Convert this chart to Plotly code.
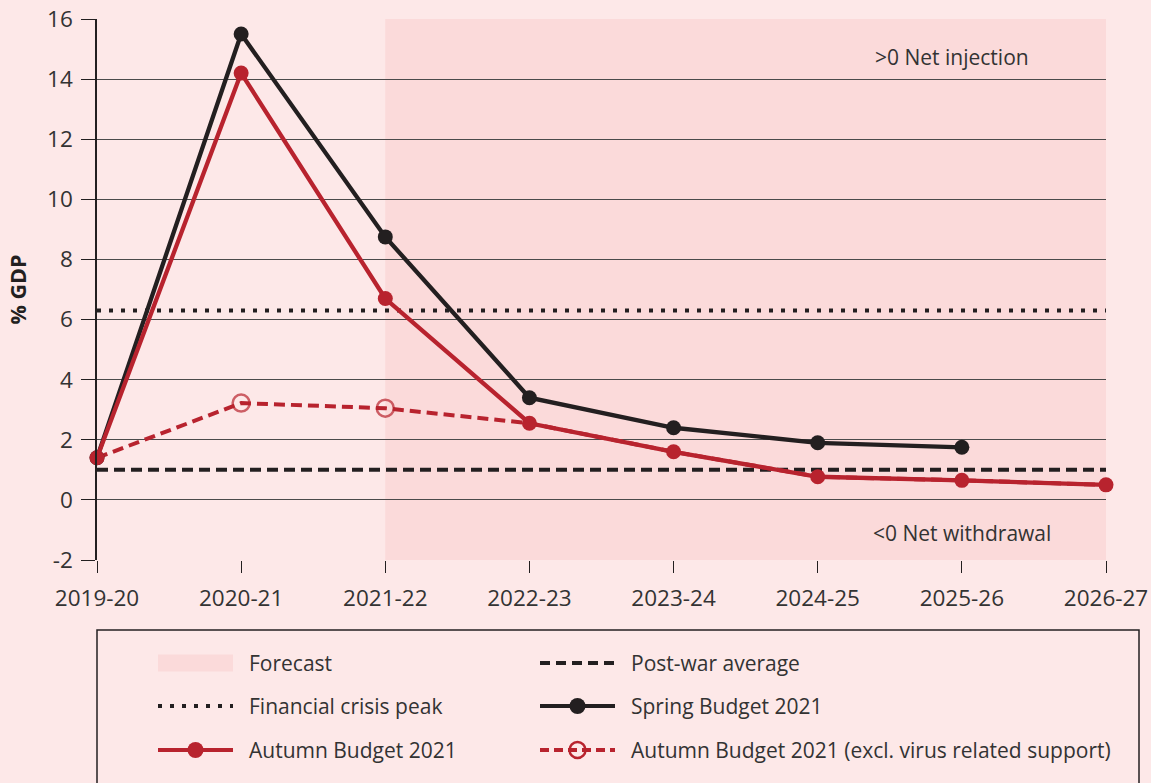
import plotly.graph_objects as go

# Fiscal stance, % of GDP
years = ["2019-20", "2020-21", "2021-22", "2022-23", "2023-24", "2024-25", "2025-26", "2026-27"]
spring_budget = [1.4, 15.5, 8.75, 3.4, 2.4, 1.9, 1.75, None]
autumn_budget = [1.4, 14.2, 6.7, 2.55, 1.6, 0.77, 0.65, 0.5]
autumn_excl_virus = [1.4, 3.22, 3.05, 2.55, 1.6, 0.77, 0.65, 0.5]
financial_crisis_peak = 6.3
post_war_average = 1.0
forecast_start = "2021-22"
y_ticks = [-2, 0, 2, 4, 6, 8, 10, 12, 14, 16]

BG = "#fde8e8"
FORECAST = "#fbdada"
RED = "#b8232e"
BLACK = "#231f20"
TXT = "#333333"
FONT = "Open Sans"

xs = list(range(len(years)))
x_end = xs[-1]
fc = years.index(forecast_start)

fig = go.Figure()

# reference levels
fig.add_trace(go.Scatter(x=[xs[0], x_end], y=[financial_crisis_peak] * 2, mode="lines",
                         line=dict(color=BLACK, width=4, dash="4px,8px"), hoverinfo="skip"))
fig.add_trace(go.Scatter(x=[xs[0], x_end], y=[post_war_average] * 2, mode="lines",
                         line=dict(color=BLACK, width=4, dash="11px,6px"), hoverinfo="skip"))

# excl. virus support: open markers only where it departs from the main line
excl_sizes = [17 if a != b else 0 for a, b in zip(autumn_excl_virus, autumn_budget)]
fig.add_trace(go.Scatter(x=xs, y=autumn_excl_virus, mode="lines+markers",
                         line=dict(color=RED, width=4, dash="11px,6px"),
                         marker=dict(symbol="circle-open", size=excl_sizes, color=RED,
                                     line=dict(width=2.5, color=RED)),
                         cliponaxis=False))
fig.add_trace(go.Scatter(x=xs, y=spring_budget, mode="lines+markers",
                         line=dict(color=BLACK, width=4.3),
                         marker=dict(size=15, color=BLACK), cliponaxis=False))
fig.add_trace(go.Scatter(x=xs, y=autumn_budget, mode="lines+markers",
                         line=dict(color=RED, width=4.3),
                         marker=dict(size=15, color=RED), cliponaxis=False))

# forecast shading
fig.add_shape(type="rect", xref="x", yref="paper", x0=fc, x1=x_end, y0=0, y1=1,
              fillcolor=FORECAST, line_width=0, layer="below")

fig.add_annotation(x=5.93, y=14.75, text="&gt;0 Net injection", showarrow=False,
                   font=dict(family=FONT, size=21, color=TXT))
fig.add_annotation(x=6.0, y=-1.1, text="&lt;0 Net withdrawal", showarrow=False,
                   font=dict(family=FONT, size=21, color=TXT))

# ---- custom legend (paper coords: x 0..1 = 97..1106 px, y 0..1 = 560..19 px)
def px_x(p):
    return (p - 97) / 1009


def px_y(p):
    return (560 - p) / 541


fig.add_shape(type="rect", xref="paper", yref="paper",
              x0=px_x(97), x1=px_x(1139), y0=px_y(630), y1=px_y(830),
              line=dict(color=BLACK, width=1.5), fillcolor="rgba(0,0,0,0)")

rows = [663, 706, 750]
cols = [(158, 233, 247), (540, 615, 629)]
items = [
    ("Forecast", "swatch", None, None),
    ("Post-war average", "line", BLACK, "10px,6px"),
    ("Financial crisis peak", "line", BLACK, "4px,8px"),
    ("Spring Budget 2021", "dot", BLACK, "solid"),
    ("Autumn Budget 2021", "dot", RED, "solid"),
    ("Autumn Budget 2021 (excl. virus related support)", "open", RED, "9px,5px"),
]
for i, (label, kind, color, dash) in enumerate(items):
    yy = rows[i // 2]
    x0, x1, xt = cols[i % 2]
    if kind == "swatch":
        fig.add_shape(type="rect", xref="paper", yref="paper",
                      x0=px_x(x0), x1=px_x(x1), y0=px_y(yy + 8.5), y1=px_y(yy - 8.5),
                      fillcolor=FORECAST, line_width=0)
    else:
        fig.add_shape(type="line", xref="paper", yref="paper",
                      x0=px_x(x0), x1=px_x(x1), y0=px_y(yy), y1=px_y(yy),
                      line=dict(color=color, width=4, dash=dash))
        if kind in ("dot", "open"):
            fig.add_shape(type="circle", xref="paper", yref="paper",
                          xsizemode="pixel", ysizemode="pixel",
                          xanchor=px_x((x0 + x1) / 2), yanchor=px_y(yy),
                          x0=-8, x1=8, y0=-8, y1=8,
                          fillcolor=color if kind == "dot" else "rgba(0,0,0,0)",
                          line=dict(color=color, width=2.5 if kind == "open" else 0))
    fig.add_annotation(xref="paper", yref="paper", x=px_x(xt), y=px_y(yy),
                       xanchor="left", yanchor="middle", text=label, showarrow=False,
                       font=dict(family=FONT, size=21, color=TXT))

fig.update_layout(
    width=1151, height=783,
    margin=dict(l=97, r=45, t=19, b=223),
    paper_bgcolor=BG, plot_bgcolor=BG,
    showlegend=False,
    font=dict(family=FONT, size=21, color=TXT),
    xaxis=dict(range=[xs[0], x_end], tickvals=xs, ticktext=years, automargin=False,
               showgrid=False, zeroline=False, showline=False,
               ticks="outside", ticklen=12, tickcolor=BLACK, tickwidth=1,
               tickfont=dict(size=22.5, color=TXT), ticklabelstandoff=6),
    yaxis=dict(range=[-2, 16], tickvals=y_ticks, ticktext=[str(v) for v in y_ticks],
               automargin=False,
               showgrid=True, gridcolor="#4a4a4a", gridwidth=1,
               zeroline=False, showline=True, linecolor=BLACK, linewidth=1.5,
               ticks="outside", ticklen=14, tickcolor=BLACK, tickwidth=1,
               tickfont=dict(size=22.5, color=TXT), ticklabelstandoff=4,
               title=dict(text="<b>% GDP</b>", font=dict(size=21.5, color=BLACK), standoff=14)),
)

fig.write_html("out.html", config={"displayModeBar": False},
               post_script="document.body.style.margin='0';")
